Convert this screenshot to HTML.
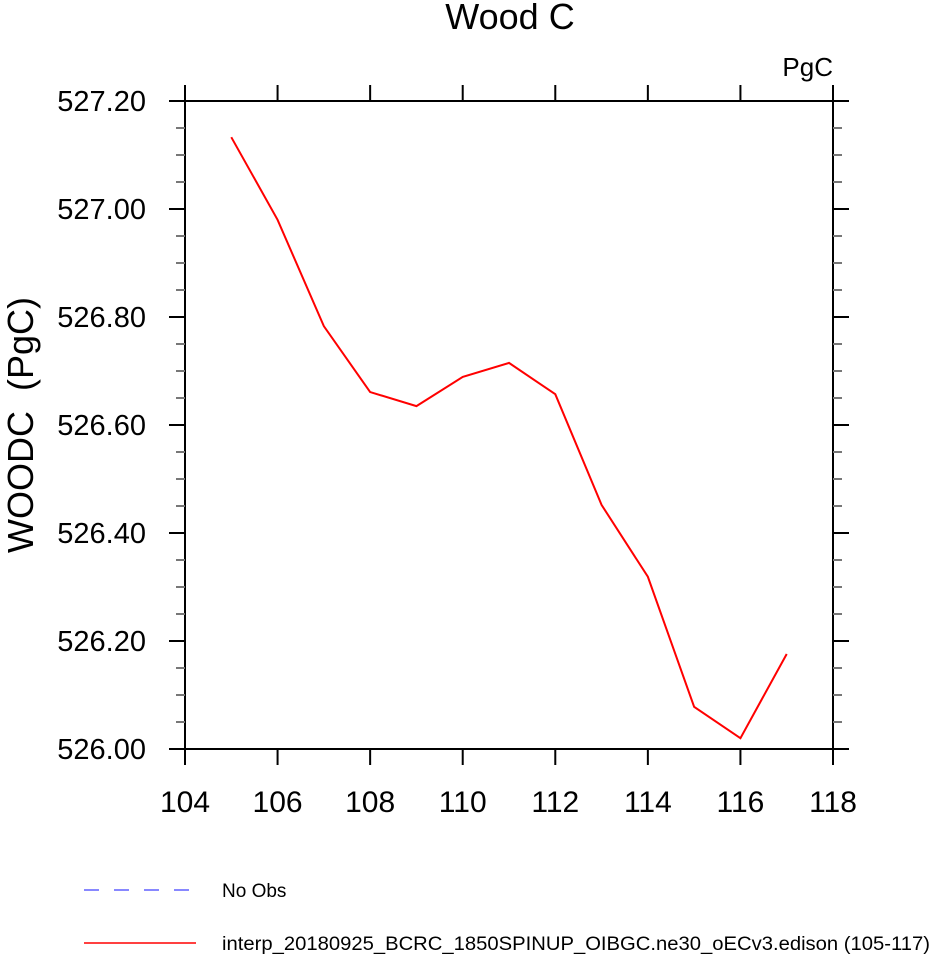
<!DOCTYPE html>
<html><head><meta charset="utf-8"><style>body{margin:0;background:#fff}svg{display:block}text{font-family:"Liberation Sans",sans-serif}</style></head>
<body>
<svg id="chart" width="932" height="954">
<text x="510" y="29" font-size="36" text-anchor="middle">Wood C</text>
<text x="833" y="76" font-size="26" text-anchor="end">PgC</text>
<text transform="translate(33,425) rotate(-90)" font-size="36" text-anchor="middle" xml:space="preserve">WOODC  (PgC)</text>
<g id="axes"></g>
<g id="series"></g>
<g>
<line x1="84" y1="890" x2="196" y2="890" stroke="#4040ff" stroke-width="1.2" stroke-dasharray="15,15"/>
<text x="222" y="897" font-size="19">No Obs</text>
<line x1="84" y1="943" x2="196" y2="943" stroke="#ff0000" stroke-width="1.5"/>
<text x="222" y="950" font-size="19" textLength="708" lengthAdjust="spacingAndGlyphs">interp_20180925_BCRC_1850SPINUP_OIBGC.ne30_oECv3.edison (105-117)</text>
</g>
</svg>
<script>
const years=[105,106,107,108,109,110,111,112,113,114,115,116,117];
const woodc=[527.133,526.98,526.783,526.661,526.635,526.689,526.715,526.657,526.452,526.319,526.078,526.02,526.176];
const xTicks=[104,106,108,110,112,114,116,118];
const yTicks=[526.0,526.2,526.4,526.6,526.8,527.0,527.2];
const L=185,R=833,T=101,B=749;
const xs=v=>L+(v-104)/(118-104)*(R-L);
const ys=v=>B-(v-526)/(1.2)*(B-T);
const NS="http://www.w3.org/2000/svg";
const ax=document.getElementById('axes');
function ln(x1,y1,x2,y2,c,w,name){const e=document.createElementNS(NS,'line');e.setAttribute('x1',x1);e.setAttribute('y1',y1);e.setAttribute('x2',x2);e.setAttribute('y2',y2);e.setAttribute('stroke',c);e.setAttribute('stroke-width',w);


ax.appendChild(e);}
const fr=document.createElementNS(NS,'rect');fr.setAttribute('x',L);fr.setAttribute('y',T);fr.setAttribute('width',R-L);fr.setAttribute('height',B-T);fr.setAttribute('fill','none');fr.setAttribute('stroke','#000');fr.setAttribute('stroke-width',2);


ax.appendChild(fr);
xTicks.forEach(v=>{const x=xs(v);ln(x,B,x,B+16,'#000',2,'x-tick');ln(x,T,x,T-16,'#000',2,'x-tick-top');
const t=document.createElementNS(NS,'text');t.setAttribute('x',x);t.setAttribute('y',812);t.setAttribute('font-size',30);t.setAttribute('text-anchor','middle');t.textContent=v;


ax.appendChild(t);});
yTicks.forEach((v,i)=>{const y=ys(v);ln(L,y,L-16,y,'#000',2,'y-tick');ln(R,y,R+16,y,'#000',2,'y-tick-right');
const t=document.createElementNS(NS,'text');t.setAttribute('x',146);t.setAttribute('y',y+10);t.setAttribute('font-size',29);t.setAttribute('text-anchor','end');t.textContent=v.toFixed(2);


ax.appendChild(t);
if(i<yTicks.length-1){for(let k=1;k<4;k++){const yy=ys(v+0.05*k);ln(L,yy,L-9,yy,'#777',2,'y-minor-tick');ln(R,yy,R+9,yy,'#777',2,'y-minor-tick-right');}}});
const p=document.createElementNS(NS,'polyline');
p.setAttribute('points',years.map((y,i)=>xs(y)+','+ys(woodc[i])).join(' '));
p.setAttribute('fill','none');p.setAttribute('stroke','#ff0000');p.setAttribute('stroke-width',2);


document.getElementById('series').appendChild(p);
</script>
</body></html>
